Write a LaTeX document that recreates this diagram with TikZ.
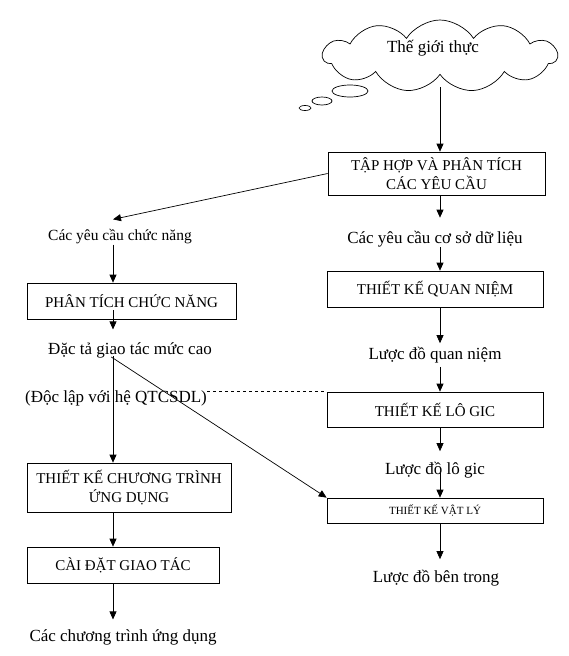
\documentclass[tikz,border=0pt]{standalone}
\usepackage{fontspec}
\setmainfont{Liberation Serif}
\usetikzlibrary{arrows.meta,shapes.symbols}

\begin{document}
\begin{tikzpicture}[x=1pt, y=-1pt, line width=0.7pt, >={Triangle[length=8pt,width=7pt]},
		box/.style={draw, align=center, inner sep=0pt, font=\fontsize{15}{19}\selectfont},
		lbl/.style={inner sep=0pt, font=\fontsize{17}{20}\selectfont}]
	\useasboundingbox (0,0) rectangle (568,656);
	\coordinate (rx) at (440,0);
	\coordinate (lx) at (113,0);
	% the real world
	\node[draw, cloud, cloud puffs=11, cloud puff arc=115, aspect=3.2, minimum width=234pt, minimum height=72pt] (world) at (440,56) {};
	\node[lbl] (worldtxt) at (433,48) {Thế giới thực};
	\draw (350,91) ellipse [x radius=18, y radius=6];
	\draw (322,101) ellipse [x radius=10, y radius=4];
	\draw (305,108) ellipse [x radius=6, y radius=2.5];
	% right column
	\node[box, minimum width=217pt, minimum height=43pt] (req) at (436.5,173.5) {TẬP HỢP VÀ PHÂN TÍCH\\CÁC YÊU CẦU};
	\node[lbl] (dbreq) at (435,239) {Các yêu cầu cơ sở dữ liệu};
	\node[box, minimum width=216pt, minimum height=36pt] (concept) at (435,289) {THIẾT KẾ QUAN NIỆM};
	\node[lbl] (cschema) at (435,355) {Lược đồ quan niệm};
	\node[box, minimum width=216pt, minimum height=35pt] (logic) at (435,409.5) {THIẾT KẾ LÔ GIC};
	\node[lbl] (lschema) at (435,470) {Lược đồ lô gic};
	\node[box, minimum width=216pt, minimum height=25pt, font=\fontsize{11}{13}\selectfont] (phys) at (435,510.5) {THIẾT KẾ VẬT LÝ};
	\node[lbl] (ischema) at (436,578) {Lược đồ bên trong};
	% left column
	\node[lbl, font=\fontsize{15.5}{18}\selectfont] (funreq) at (120,237) {Các yêu cầu chức năng};
	\node[box, minimum width=209pt, minimum height=36pt] (funan) at (131.5,301) {PHÂN TÍCH CHỨC NĂNG};
	\node[lbl] (spec) at (130,350) {Đặc tả giao tác mức cao};
	\node[lbl] (indep) at (116,398) {(Độc lập với hệ QTCSDL)};
	\node[box, minimum width=204pt, minimum height=49pt] (appdes) at (129,487.5) {THIẾT KẾ CHƯƠNG TRÌNH\\ỨNG DỤNG};
	\node[box, minimum width=192pt, minimum height=36pt] (trans) at (123,565) {CÀI ĐẶT GIAO TÁC};
	\node[lbl] (apps) at (123,637) {Các chương trình ứng dụng};
	% arrows
	\draw[->, shorten <=31pt] (world.center -| rx) -- (req.north -| rx);
	\draw[->, shorten >=13pt] (req.south -| rx) -- (dbreq.north -| rx);
	\draw[->] (dbreq.south -| rx) -- (concept.north -| rx);
	\draw[->, shorten >=3.5pt] (concept.south -| rx) -- (cschema.north -| rx);
	\draw[->, shorten <=3.5pt] (cschema.south -| rx) -- (logic.north -| rx);
	\draw[->, shorten >=10.5pt] (logic.south -| rx) -- (lschema.north -| rx);
	\draw[->, shorten <=-5pt] (lschema.south -| rx) -- (phys.north -| rx);
	\draw[->, shorten >=10.5pt] (phys.south -| rx) -- (ischema.north -| rx);
	\draw[->] (req.west) -- ([yshift=10pt]funreq.north -| lx);
	\draw[->] (funreq.south -| lx) -- (funan.north -| lx);
	\draw[->, shorten <=-9pt, shorten >=12.5pt] (funan.south -| lx) -- (spec.north -| lx);
	\draw[->, shorten <=-2pt] (spec.south -| lx) -- (appdes.north -| lx);
	\draw[->, shorten <=-2pt] (spec.south -| lx) -- (phys.north west);
	\draw[dashed, line width=0.5pt] (indep.east |- logic.north west) -- (logic.north west);
	\draw[->] (appdes.south -| lx) -- (trans.north -| lx);
	\draw[->, shorten >=9.5pt] (trans.south -| lx) -- (apps.north -| lx);
\end{tikzpicture}
\end{document}
